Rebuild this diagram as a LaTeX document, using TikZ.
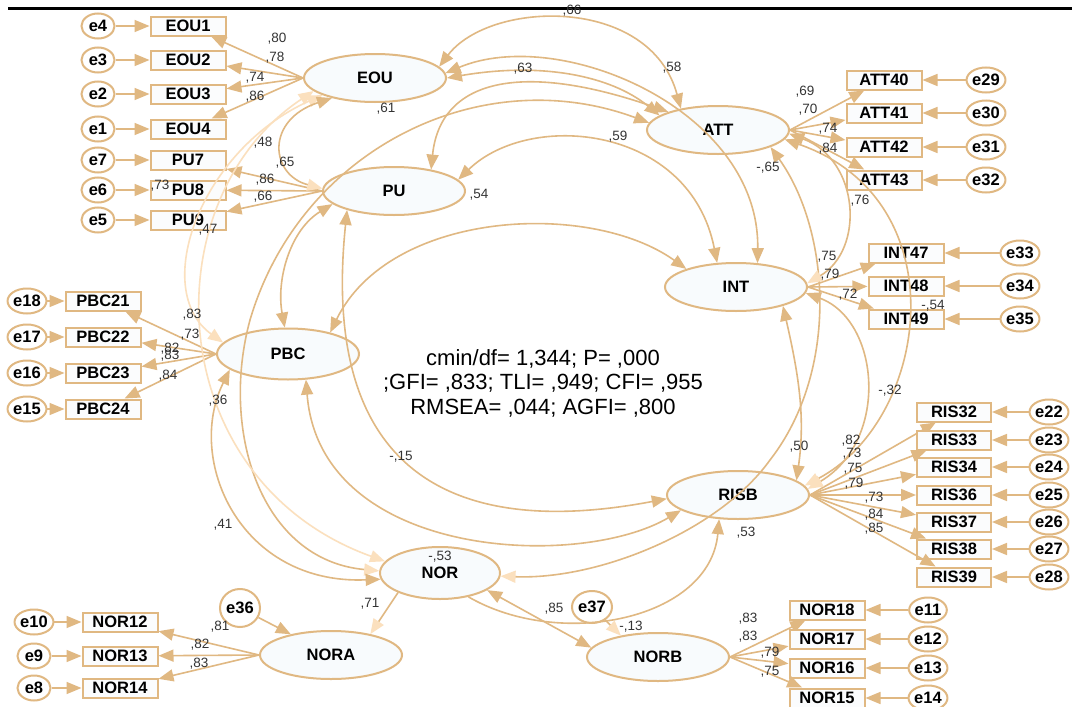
\documentclass[tikz,border=0pt]{standalone}
\usepackage{fontspec}
\setmainfont{Liberation Sans}
\usetikzlibrary{shapes.geometric,arrows.meta}
\definecolor{tan}{RGB}{224,184,130}
\definecolor{lighttan}{RGB}{251,224,190}
\definecolor{boxfill}{RGB}{251,252,253}
\definecolor{latfill}{RGB}{248,251,253}
\begin{document}
\begin{tikzpicture}[x=1pt,y=-1pt,
  Tn/.tip={Triangle[length=15pt,width=12pt]},
  Tl/.tip={Triangle[length=15pt,width=12pt,color=lighttan]},
  obs/.style={rectangle,draw=tan,line width=2pt,fill=boxfill,minimum width=75pt,minimum height=19pt,inner sep=0pt,font=\bfseries\fontsize{16.5}{16}\selectfont},
  err/.style={ellipse,draw=tan,line width=2pt,fill=white,minimum width=33pt,minimum height=25pt,inner sep=0pt,font=\bfseries\fontsize{16.5}{16}\selectfont},
  lat/.style={ellipse,draw=tan,line width=2pt,fill=latfill,minimum width=142pt,minimum height=48pt,inner sep=0pt,font=\bfseries\fontsize{16.5}{16}\selectfont},
  num/.style={inner sep=0pt,font=\fontsize{13.5}{14}\selectfont,text=black!80},
  arr/.style={draw=tan,line width=1.6pt,-Tn},
  arrL/.style={draw=tan,line width=1.6pt,-Tl},
  cov/.style={draw=tan,line width=1.6pt,Tn-Tn},
  covLs/.style={draw=tan,line width=1.6pt,Tl-Tn},
  covLe/.style={draw=tan,line width=1.6pt,Tn-Tl},
  covL/.style={draw=lighttan,line width=1.6pt,Tl-Tl}]
\useasboundingbox (0,0) rectangle (1072,707);
\fill[white] (0,0) rectangle (1072,707);
\coordinate (topL) at (8,8);
\coordinate (topR) at (1072,8);
\draw[line width=3pt] (topL) -- (topR);

% latent variables
\node[lat] (EOU) at (375,78) {EOU};
\node[lat] (PU) at (394,191) {PU};
\node[lat] (ATT) at (718,130) {ATT};
\node[lat] (INT) at (736,287) {INT};
\node[lat,minimum height=51pt] (PBC) at (288,354) {PBC};
\node[lat] (RISB) at (738,495) {RISB};
\node[lat,minimum width=120pt,minimum height=52pt] (NOR) at (440,573) {NOR};
\node[lat] (NORA) at (331,655) {NORA};
\node[lat] (NORB) at (658,657) {NORB};
\node[err,minimum width=40pt,minimum height=38pt] (e36) at (240,608) {e36};
\node[err,minimum width=40pt,minimum height=32pt] (e37) at (592,607) {e37};

% EOU / PU indicators
\foreach \b/\e/\y in {EOU1/e4/26,EOU2/e3/60,EOU3/e2/94,EOU4/e1/129}{
  \node[obs] (\b) at (188,\y) {\b};
  \node[err] (\e) at (98,\y) {\e};
  \draw[arr] (\e) -- (\b);
  \draw[arr] (EOU.west) -- (\b);}
\foreach \b/\e/\y in {PU7/e7/160,PU8/e6/190,PU9/e5/220}{
  \node[obs] (\b) at (188,\y) {\b};
  \node[err] (\e) at (98,\y) {\e};
  \draw[arr] (\e) -- (\b);
  \draw[arr] (PU.west) -- (\b);}
% PBC indicators
\foreach \b/\e/\y in {PBC21/e18/301,PBC22/e17/337,PBC23/e16/373,PBC24/e15/409}{
  \node[obs] (\b) at (103,\y) {\b};
  \node[err] (\e) at (27,\y) {\e};
  \draw[arr] (\e) -- (\b);
  \draw[arr] (PBC.west) -- (\b);}
% NORA indicators
\foreach \b/\e/\y in {NOR12/e10/622,NOR13/e9/656,NOR14/e8/688}{
  \node[obs] (\b) at (120,\y) {\b};
  \node[err] (\e) at (34,\y) {\e};
  \draw[arr] (\e) -- (\b);
  \draw[arr] (NORA.west) -- (\b);}
% ATT indicators
\foreach \b/\e/\y in {ATT40/e29/80,ATT41/e30/113,ATT42/e31/147,ATT43/e32/180}{
  \node[obs] (\b) at (884,\y) {\b};
  \node[err] (\e) at (986,\y) {\e};
  \draw[arr] (\e) -- (\b);
  \draw[arr] (ATT.east) -- (\b);}
% INT indicators
\foreach \b/\e/\y in {INT47/e33/253,INT48/e34/286,INT49/e35/319}{
  \node[obs] (\b) at (906,\y) {\b};
  \node[err] (\e) at (1020,\y) {\e};
  \draw[arr] (\e) -- (\b);
  \draw[arr] (INT.east) -- (\b);}
% RISB indicators
\foreach \b/\e/\y in {RIS32/e22/412,RIS33/e23/440,RIS34/e24/467,RIS36/e25/495,RIS37/e26/522,RIS38/e27/549,RIS39/e28/577}{
  \node[obs,minimum width=74pt] (\b) at (954,\y) {\b};
  \node[err,minimum width=32pt] (\e) at (1049,\y) {\e};
  \draw[arr] (\e) -- (\b);
  \draw[arr] (RISB.east) -- (\b);}
% NORB indicators
\foreach \b/\e/\y in {NOR18/e11/610,NOR17/e12/639,NOR16/e13/668,NOR15/e14/698}{
  \node[obs] (\b) at (827,\y) {\b};
  \node[err,minimum width=31pt] (\e) at (928,\y) {\e};
  \draw[arr] (\e) -- (\b);
  \draw[arr] (NORB.east) -- (\b);}

% structural paths
\draw[arr] (e36) -- (NORA);
\draw[arrL] (e37) -- (NORB.150);
\draw[arrL] (NOR.205) -- (NORA.28);
\draw[cov] (NOR.-20) -- (NORB.172);

% curved connectors
\draw[cov] (EOU.10) .. controls (490,0) and (650,-5) .. (ATT.150);
\draw[cov] (EOU.4) .. controls (560,25) and (760,110) .. (INT.48);
\draw[cov] (EOU.0) .. controls (540,62) and (610,75) .. (ATT.166);
\draw[cov] (PU.30) .. controls (440,80) and (520,60) .. (ATT.160);
\draw[cov] (PU.10) .. controls (530,110) and (690,125) .. (INT.128);
\draw[cov] (PBC.27) .. controls (390,210) and (590,200) .. (INT.160);
\draw[cov] (PU.202) .. controls (320,470) and (450,540) .. (RISB.183);
\draw[covLs] (NOR.-3) .. controls (600,580) and (720,530) .. (770,460) .. controls (840,370) and (830,230) .. (ATT.-18);
\draw[covLe] (ATT.-3) .. controls (860,160) and (865,250) .. (INT.3);
\draw[covLe] (ATT.-8) .. controls (960,200) and (930,420) .. (RISB.8);
\draw[covLe] (INT.-5) .. controls (880,320) and (890,440) .. (RISB.5);
\draw[cov] (INT.-22) .. controls (800,380) and (805,420) .. (RISB.14);
\draw[arr] (NOR.-40) .. controls (560,650) and (710,620) .. (RISB.-128);
\draw[covLe] (ATT.174) .. controls (480,60) and (300,150) .. (250,320) .. controls (220,430) and (260,560) .. (NOR.178);
\draw[covL] (EOU.198) .. controls (200,150) and (150,290) .. (PBC.170);
\draw[covL] (EOU.192) .. controls (150,200) and (160,480) .. (NOR.168);
\draw[covLe] (EOU.205) .. controls (265,120) and (270,175) .. (PU.178);
\draw[cov] (PU.192) .. controls (290,230) and (276,280) .. (PBC.97);
\draw[cov] (PBC.195) .. controls (185,460) and (240,585) .. (NOR.186);
\draw[cov] (PBC.-55) .. controls (320,560) and (580,570) .. (RISB.195);

% fit statistics
\node[align=center,font=\fontsize{22}{24.5}\selectfont,inner sep=0pt] (fit) at (543,383) {cmin/df= 1,344; P= ,000\\;GFI= ,833; TLI= ,949; CFI= ,955\\RMSEA= ,044; AGFI= ,800};

% estimates
\node[num] (n1) at (277,39) {,80};
\node[num] (n2) at (275,58) {,78};
\node[num] (n3) at (255,78) {,74};
\node[num] (n4) at (255,97) {,86};
\node[num] (n5) at (263,143) {,48};
\node[num] (n6) at (285,163) {,65};
\node[num] (n7) at (265,180) {,86};
\node[num] (n8) at (160,186) {,73};
\node[num] (n9) at (263,197) {,66};
\node[num] (n10) at (208,230) {,47};
\node[num] (n11) at (572,11) {,66};
\node[num] (n12) at (523,69) {,63};
\node[num] (n13) at (672,68) {,58};
\node[num] (n14) at (386,109) {,61};
\node[num] (n15) at (618,137) {,59};
\node[num] (n16) at (479,195) {,54};
\node[num] (n17) at (805,92) {,69};
\node[num] (n18) at (808,110) {,70};
\node[num] (n19) at (828,129) {,74};
\node[num] (n20) at (828,149) {,84};
\node[num] (n21) at (768,168) {-,65};
\node[num] (n22) at (860,201) {,76};
\node[num] (n23) at (827,257) {,75};
\node[num] (n24) at (830,275) {,79};
\node[num] (n25) at (848,295) {,72};
\node[num] (n26) at (933,306) {-,54};
\node[num] (n27) at (192,315) {,83};
\node[num] (n28) at (190,335) {,73};
\node[num] (n29) at (170,349) {,82};
\node[num] (n30) at (170,356) {,83};
\node[num] (n31) at (168,376) {,84};
\node[num] (n32) at (218,401) {,36};
\node[num] (n33) at (401,457) {-,15};
\node[num] (n34) at (223,525) {,41};
\node[num] (n35) at (440,557) {-,53};
\node[num] (n36) at (370,604) {,71};
\node[num] (n37) at (220,627) {,81};
\node[num] (n38) at (200,645) {,82};
\node[num] (n39) at (199,664) {,83};
\node[num] (n40) at (554,609) {,85};
\node[num] (n41) at (631,627) {-,13};
\node[num] (n42) at (748,619) {,83};
\node[num] (n43) at (748,637) {,83};
\node[num] (n44) at (770,653) {,79};
\node[num] (n45) at (770,672) {,75};
\node[num] (n46) at (746,533) {,53};
\node[num] (n47) at (890,391) {-,32};
\node[num] (n48) at (851,441) {,82};
\node[num] (n49) at (852,454) {,73};
\node[num] (n50) at (853,469) {,75};
\node[num] (n51) at (854,484) {,79};
\node[num] (n52) at (874,498) {,73};
\node[num] (n53) at (874,515) {,84};
\node[num] (n54) at (874,529) {,85};
\node[num] (n55) at (799,447) {,50};
\end{tikzpicture}
\end{document}
